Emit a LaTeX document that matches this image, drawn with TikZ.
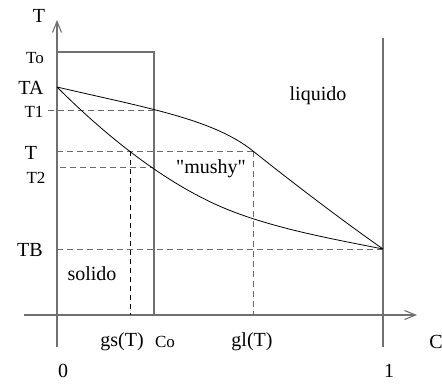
\documentclass[tikz,border=0pt]{standalone}
\usepackage{fontspec}
\setmainfont{Liberation Serif}[Ligatures=TeXOff]
\usepackage{tikz}
\usetikzlibrary{arrows.meta}
\definecolor{AxisGray}{HTML}{707070}
\definecolor{DashGray}{HTML}{6A6A6A}

\tikzset{
  lbl/.style={inner sep=0pt, font=\fontsize{20}{24}\selectfont},
  smalllbl/.style={inner sep=0pt, font=\fontsize{17}{20}\selectfont},
  axis/.style={AxisGray, line width=1.1pt},
  guide/.style={DashGray, line width=0.9pt, dash pattern=on 6pt off 4pt},
  curve/.style={black, line width=0.8pt}
}

\begin{document}
\begin{tikzpicture}[x=1pt, y=-1pt]
  \useasboundingbox (0,0) rectangle (442,386);
  % key points of the diagram
  \coordinate (TA) at (57,87);
  \coordinate (TB) at (383,249);
  \coordinate (gsT) at (130,151);
  \coordinate (glT) at (253,151);
  \coordinate (T1) at (154,110);
  \coordinate (T2) at (154,167);
  % axes
  \draw[axis, -{Straight Barb[length=11pt, width=9pt]}] (57,347) -- (57,20);
  \draw[axis, -{Straight Barb[length=11pt, width=9pt]}] (24,315) -- (417,315);
  \draw[axis] (383,38) -- (383,347);
  \draw[axis] (57,52) -- (154,52) -- (154,315);
  % dashed guides
  \draw[guide] (48,110) -- (T1);
  \draw[guide] (57,151) -- (glT);
  \draw[guide] (60,167) -- (T2);
  \draw[guide] (57,249) -- (TB);
  \draw[guide] (glT) -- (253,315);
  \draw[black, line width=0.8pt, dash pattern=on 5pt off 4pt] (gsT) -- (130,315);
  % liquidus and solidus
  \draw[curve] (TA) .. controls (147,108) and (213,119) .. (glT)
    .. controls (293,183) and (343,221) .. (TB);
  \draw[curve] (TA) .. controls (112,142) and (167,182.5) .. (217,205)
    .. controls (267,227.5) and (333,239) .. (TB);
  % labels
  \node[lbl] (lT) at (39,16) {T};
  \node[smalllbl] (lTo) at (35,58) {To};
  \node[lbl] (lTA) at (31,88) {TA};
  \node[smalllbl] (lT1) at (34,112) {T1};
  \node[lbl] (lTT) at (31,153) {T};
  \node[smalllbl] (lT2) at (36,178) {T2};
  \node[lbl] (lTB) at (30,250) {TB};
  \node[lbl] (solido) at (92,274) {solido};
  \node[lbl] (liquido) at (318,96) {liquido};
  \node[lbl] (mushy) at (211,169) {"mushy"};
  \node[lbl] (lgs) at (122,342) {gs(T)};
  \node[smalllbl] (lCo) at (165,342) {Co};
  \node[lbl] (lgl) at (252,342) {gl(T)};
  \node[lbl] (lC) at (436,342) {C};
  \node[lbl] (l0) at (63,371) {0};
  \node[lbl] (l1) at (389,371) {1};
\end{tikzpicture}
\end{document}
